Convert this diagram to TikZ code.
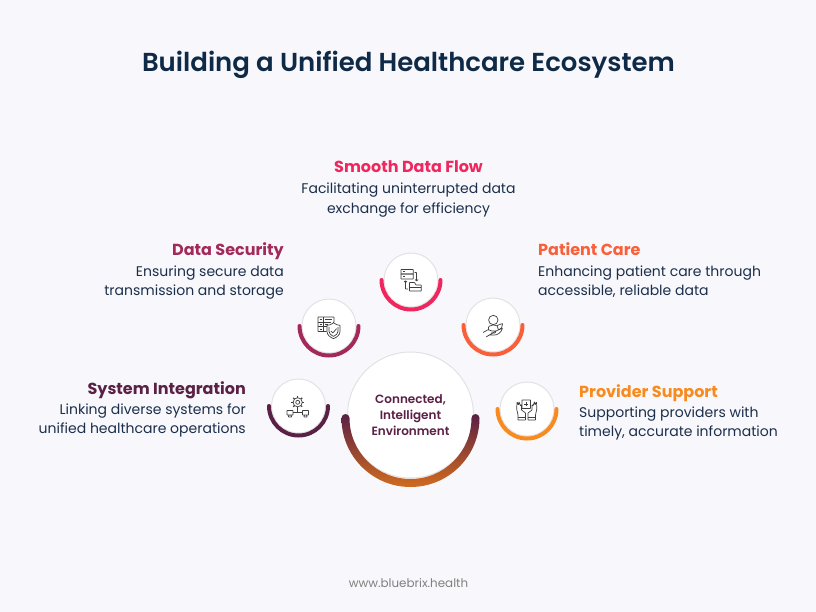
\documentclass[tikz,border=0pt]{standalone}
\usepackage{fontspec}
\setmainfont{Poppins}[BoldFont={Poppins SemiBold}]
\newfontfamily\headfont{Poppins Bold}
\definecolor{bgcol}{HTML}{F8F8FC}
\definecolor{inkcol}{HTML}{0F2A47}
\definecolor{bodycol}{HTML}{1B2F4B}
\definecolor{flowcol}{HTML}{F0265F}
\definecolor{securecol}{HTML}{A3295B}
\definecolor{carecol}{HTML}{F9603A}
\definecolor{systemcol}{HTML}{5A2045}
\definecolor{providercol}{HTML}{F98A1E}
\definecolor{hubendcol}{HTML}{D06A1E}
\definecolor{iconcol}{HTML}{3E3E3E}
\definecolor{ringcol}{HTML}{E2E2E6}
\begin{document}
\begin{tikzpicture}[x=1pt, y=-1pt,
	disc/.style={circle, fill=white, draw=ringcol, line width=1pt, inner sep=0pt, minimum size=#1},
	head/.style={font=\fontsize{16}{18}\selectfont\headfont, inner sep=0pt},
	body/.style={font=\fontsize{14}{20}\selectfont, text=bodycol, inner sep=0pt},
	icon/.style={draw=iconcol, line width=0.7pt, line join=round, rounded corners=0.4pt}]
	\useasboundingbox[fill=bgcol] (0,0) rectangle (816,612);

	% title and footer
	\node[font=\fontsize{26}{30}\selectfont\bfseries, text=inkcol, inner sep=0pt, anchor=base] (title) at (408.5,71.5) {Building a Unified Healthcare Ecosystem};
	\node[font=\fontsize{11.9}{14}\selectfont, text=black!50, inner sep=0pt, anchor=base] (footer) at (408.5,587.5) {www.bluebrix.health};

	% small discs with their arcs
	\foreach \name/\x/\y/\col in {flow/411/280/flowcol, secure/329/326/securecol, care/493/325/carecol, system/298.5/406/systemcol, provider/527/409/providercol} {
		\node[disc=54pt] (\name) at (\x,\y) {};
		\draw[\col, line width=4pt, line cap=round] ([xshift=-29.5pt]\name.center) arc[start angle=180, end angle=0, radius=29.5];
	}

	% centre disc
	\node[disc=126pt] (hub) at (410.5,415) {};
	\coordinate (hubarc) at (410.5,418);
	\shade[top color=systemcol, bottom color=hubendcol]
		([xshift=-69pt]hubarc) arc[start angle=180, end angle=0, radius=69]
		arc[start angle=0, end angle=-180, radius=4]
		arc[start angle=0, end angle=180, radius=61]
		arc[start angle=0, end angle=-180, radius=4] -- cycle;
	\node[font=\fontsize{12}{16}\selectfont\bfseries, text=systemcol, align=center, inner sep=0pt] (hubtext) at (410.5,415) {Connected,\\Intelligent\\Environment};

	% smooth data flow
	\node[head, text=flowcol, anchor=base] (flowhead) at (408.5,173) {Smooth Data Flow};
	\node[body, anchor=base] (flowa) at (408.5,194) {Facilitating uninterrupted data};
	\node[body, anchor=base] (flowb) at (408.5,213.5) {exchange for efficiency};

	% data security
	\node[head, text=securecol, anchor=base east] (securehead) at (284,255) {Data Security};
	\node[body, anchor=base east] (securea) at (284,276.5) {Ensuring secure data};
	\node[body, anchor=base east] (secureb) at (284,295.5) {transmission and storage};

	% patient care
	\node[head, text=carecol, anchor=base west] (carehead) at (538,255) {Patient Care};
	\node[body, anchor=base west] (carea) at (538,276.5) {Enhancing patient care through};
	\node[body, anchor=base west] (careb) at (538,295.5) {accessible, reliable data};

	% system integration
	\node[head, text=systemcol, anchor=base east] (systemhead) at (246,394) {System Integration};
	\node[body, anchor=base east] (systema) at (246,414.5) {Linking diverse systems for};
	\node[body, anchor=base east] (systemb) at (246,433.5) {unified healthcare operations};

	% provider support
	\node[head, text=providercol, anchor=base west] (providerhead) at (579,397) {Provider Support};
	\node[body, anchor=base west] (providera) at (579,417.5) {Supporting providers with};
	\node[body, anchor=base west] (providerb) at (579,436.5) {timely, accurate information};

	% flow icon
	\draw[icon] (401,269.5) rectangle (413.3,274);
	\draw[icon] (401,274) rectangle (413.3,279);
	\draw[icon] (403,271.7) -- (405,271.7) (403,276.5) -- (405,276.5);
	\draw[icon] (414.5,272.5) -- (416.5,272.5) -- (416.5,281) (415,279.5) -- (416.5,281) -- (418,279.5);
	\draw[icon] (408,289) -- (405.5,289) -- (405.5,280.7) (404,282.2) -- (405.5,280.7) -- (407,282.2);
	\draw[icon] (409.5,291) -- (409.5,282.5) -- (414.5,282.5) -- (416,285) -- (421.3,285) -- (421.3,291) -- cycle;
	\draw[icon] (409.5,287.5) -- (421.3,287.5);

	% secure icon
	\draw[icon] (326.5,331.5) -- (318,331.5) -- (318,317) -- (334,317) -- (334,322);
	\draw[icon] (318,322) -- (331,322) (318,326.7) -- (327,326.7) (323,317) -- (323,331.5);
	\draw[icon] (325,319.5) -- (332,319.5) (325,324.3) -- (328,324.3);
	\foreach \i in {319.5,324.3,329} {
		\draw[icon] (319.5,\i) -- (321.5,\i);
	}
	\draw[icon] (333.5,322.7) .. controls (331.5,324.5) and (329,325.3) .. (327,325.3) -- (327,331) .. controls (327,335) and (330,337) .. (333.5,338.7) .. controls (337,337) and (340,335) .. (340,331) -- (340,325.3) .. controls (338,325.3) and (335.5,324.5) .. (333.5,322.7) -- cycle;
	\draw[icon] (329,327) -- (329,331) .. controls (329,333.5) and (331,335.2) .. (333.5,336.4) .. controls (336,335.2) and (338,333.5) .. (338,331) -- (338,327);
	\draw[icon] (330.8,331) -- (332.8,333) -- (336.5,328.7);

	% care icon
	\draw[icon] (493.3,320) circle[radius=4.7];
	\draw[icon] (488.5,330) .. controls (487.5,326.5) and (490,325) .. (493.3,325) .. controls (495,325) and (496,325.2) .. (497,325.8);
	\draw[icon] (497,325.5) -- (502.7,323.5) -- (501.5,328) -- (498.5,330) -- cycle;
	\draw[icon] (483,332.5) -- (488,329.7) -- (492,331) -- (496,331) -- (495,333) -- (491,333);
	\draw[icon] (496,331) -- (502.5,328) .. controls (501,333) and (497.5,335) .. (494,335) -- (489.5,335) -- (486,337) -- cycle;

	% system icon
	\draw[icon] (297.7,402.3) circle[radius=2];
	\draw[icon] (297.7,402.3) circle[radius=4.6];
	\foreach \a in {0,45,...,315} {
		\draw[icon, line width=1.1pt] ([shift={(\a:4.6)}]297.7,402.3) -- ([shift={(\a:6.3)}]297.7,402.3);
	}
	\draw[icon] (287,410.5) rectangle (293,415) (289,415) -- (291,415) -- (291.7,417) -- (288.3,417) -- cycle;
	\draw[icon] (302.5,410.5) rectangle (308.5,415) (304.5,415) -- (306.5,415) -- (307.2,417) -- (303.8,417) -- cycle;
	\draw[icon] (293,412.7) -- (302.5,412.7) (297.7,408.6) -- (297.7,412.7);

	% provider icon
	\draw[icon] (522,400) rectangle (530.5,408.5);
	\draw[icon] (524.3,404.2) -- (528.2,404.2) (526.2,402.2) -- (526.2,406.2);
	\draw[icon] (518,420) -- (518,415) -- (516.7,409) -- (517,402) -- (518.5,405) -- (519,401.7) -- (520.5,406) -- (521.5,404.5) -- (521.5,410) -- (525.5,413) -- (525.5,420) -- cycle;
	\draw[icon] (518,417) -- (525.5,417);
	\draw[icon] (535.5,420) -- (535.5,415) -- (536.8,409) -- (536.5,402) -- (535,405) -- (534.5,401.7) -- (533,406) -- (532,404.5) -- (532,410) -- (528,413) -- (528,420) -- cycle;
	\draw[icon] (528,417) -- (535.5,417);
\end{tikzpicture}
\end{document}
